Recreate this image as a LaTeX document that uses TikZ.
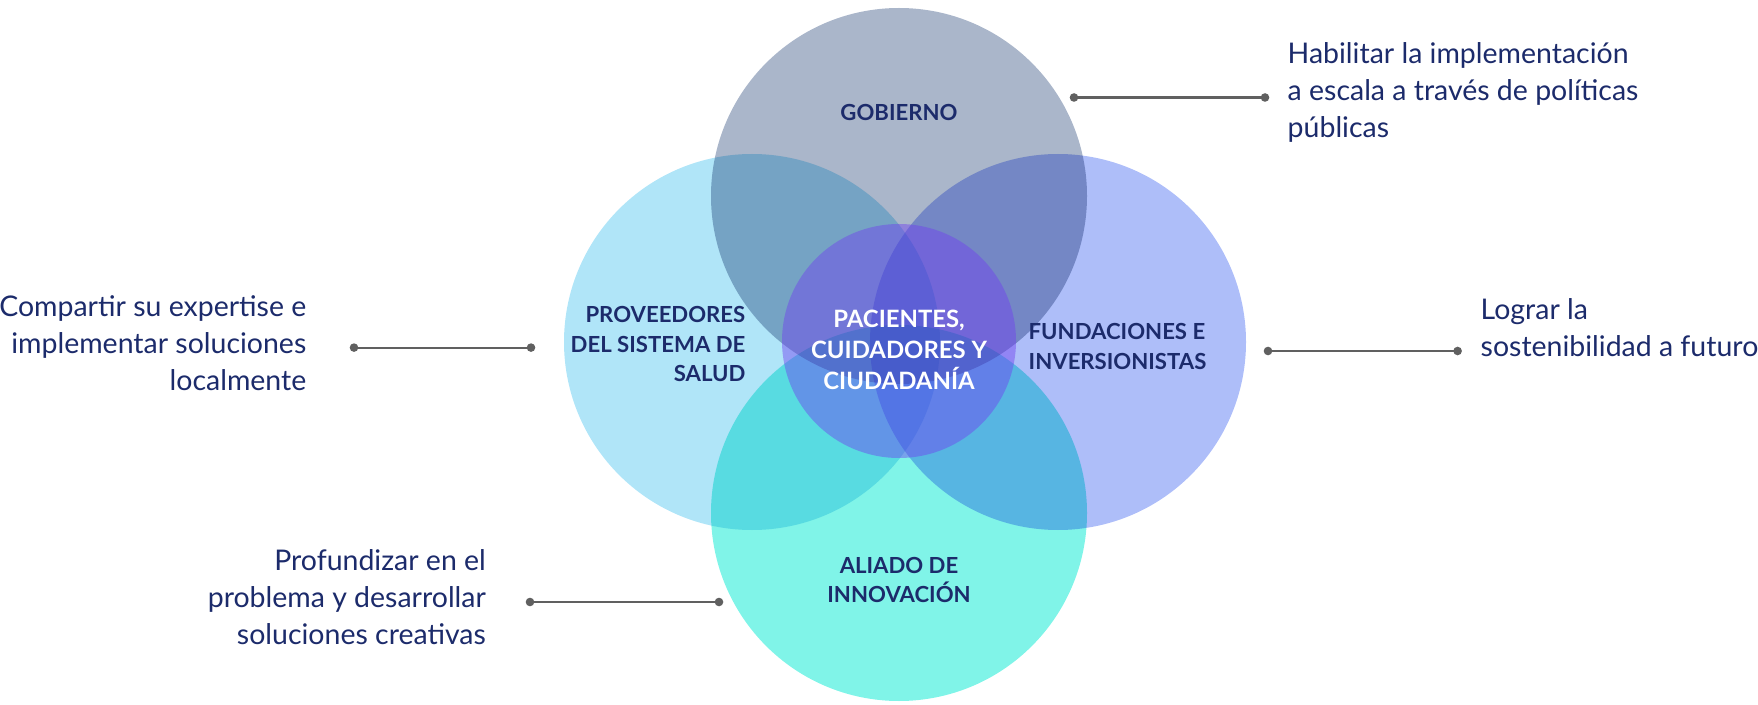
\documentclass[tikz,border=0pt]{standalone}
\usepackage{fontspec}
\setmainfont{Lato}
\usetikzlibrary{arrows.meta, positioning}

\definecolor{cgob}{HTML}{AAB6CA}
\definecolor{cprov}{HTML}{B0E5F8}
\definecolor{cfund}{HTML}{AEBEF9}
\definecolor{cali}{HTML}{80F4E8}
\definecolor{ccen}{HTML}{7040F0}
\definecolor{navy}{HTML}{1C2B6B}
\definecolor{linegray}{HTML}{606060}

\begin{document}
\begin{tikzpicture}[
  venn/.style={circle, minimum size=3.76cm, inner sep=0pt, blend mode=multiply},
  tag/.style={font=\bfseries\fontsize{6.3}{8.4}\selectfont, text=navy, align=center, inner sep=0pt},
  note/.style={font=\fontsize{8.1}{10.6}\selectfont, text=navy, inner sep=0pt},
  link/.style={draw=linegray, line width=0.6pt, {Circle[length=2.4pt]}-{Circle[length=2.4pt]}, shorten <=-1.2pt, shorten >=-1.2pt}
]
\useasboundingbox (0,0) rectangle (17.58,7.04);

% four stakeholder circles
\node[venn, fill=cgob] (gob) at (8.99,5.08) {};
\node[venn, fill=cprov] (prov) at (7.52,3.62) {};
\node[venn, fill=cfund] (fund) at (10.58,3.62) {};
\node[venn, fill=cali] (ali) at (8.99,1.91) {};
% centre circle
\node[circle, minimum size=2.34cm, inner sep=0pt, fill=ccen, fill opacity=0.45] (pac) at (8.99,3.63) {};

% circle labels
\node[tag] (tgob) at (8.99,5.92) {GOBIERNO};
\node[tag, align=right, anchor=east] (tprov) at (7.46,3.60) {PROVEEDORES\\DEL SISTEMA DE\\SALUD};
\node[tag, align=left, anchor=west] (tfund) at (10.28,3.575) {FUNDACIONES E\\INVERSIONISTAS};
\node[tag, text=white, font=\bfseries\fontsize{6.8}{8.8}\selectfont] (tpac) at (8.99,3.54) {PACIENTES,\\CUIDADORES Y\\CIUDADANÍA};
\node[tag] (tali) at (8.99,1.24) {ALIADO DE\\INNOVACIÓN};

% side notes
\node[note, align=left, anchor=west] (ngob) at (12.87,6.115) {Habilitar la implementación\\a escala a través de políticas\\públicas};
\node[note, align=right, anchor=east] (nprov) at (3.07,3.61) {Compartir su expertise e\\implementar soluciones\\localmente};
\node[note, align=left, anchor=west] (nfund) at (14.80,3.76) {Lograr la\\sostenibilidad a futuro};
\node[note, align=right, anchor=east] (nali) at (4.866,1.07) {Profundizar en el\\problema y desarrollar\\soluciones creativas};

% connectors
\coordinate (gob-a) at (10.74,6.065);
\coordinate (gob-b) at (12.65,6.065);
\coordinate (prov-a) at (3.54,3.564);
\coordinate (prov-b) at (5.31,3.564);
\coordinate (fund-a) at (12.68,3.53);
\coordinate (fund-b) at (14.576,3.53);
\coordinate (ali-a) at (5.30,1.02);
\coordinate (ali-b) at (7.19,1.02);
\draw[link] (gob-a) -- (gob-b);
\draw[link] (prov-a) -- (prov-b);
\draw[link] (fund-a) -- (fund-b);
\draw[link] (ali-a) -- (ali-b);
\end{tikzpicture}
\end{document}
